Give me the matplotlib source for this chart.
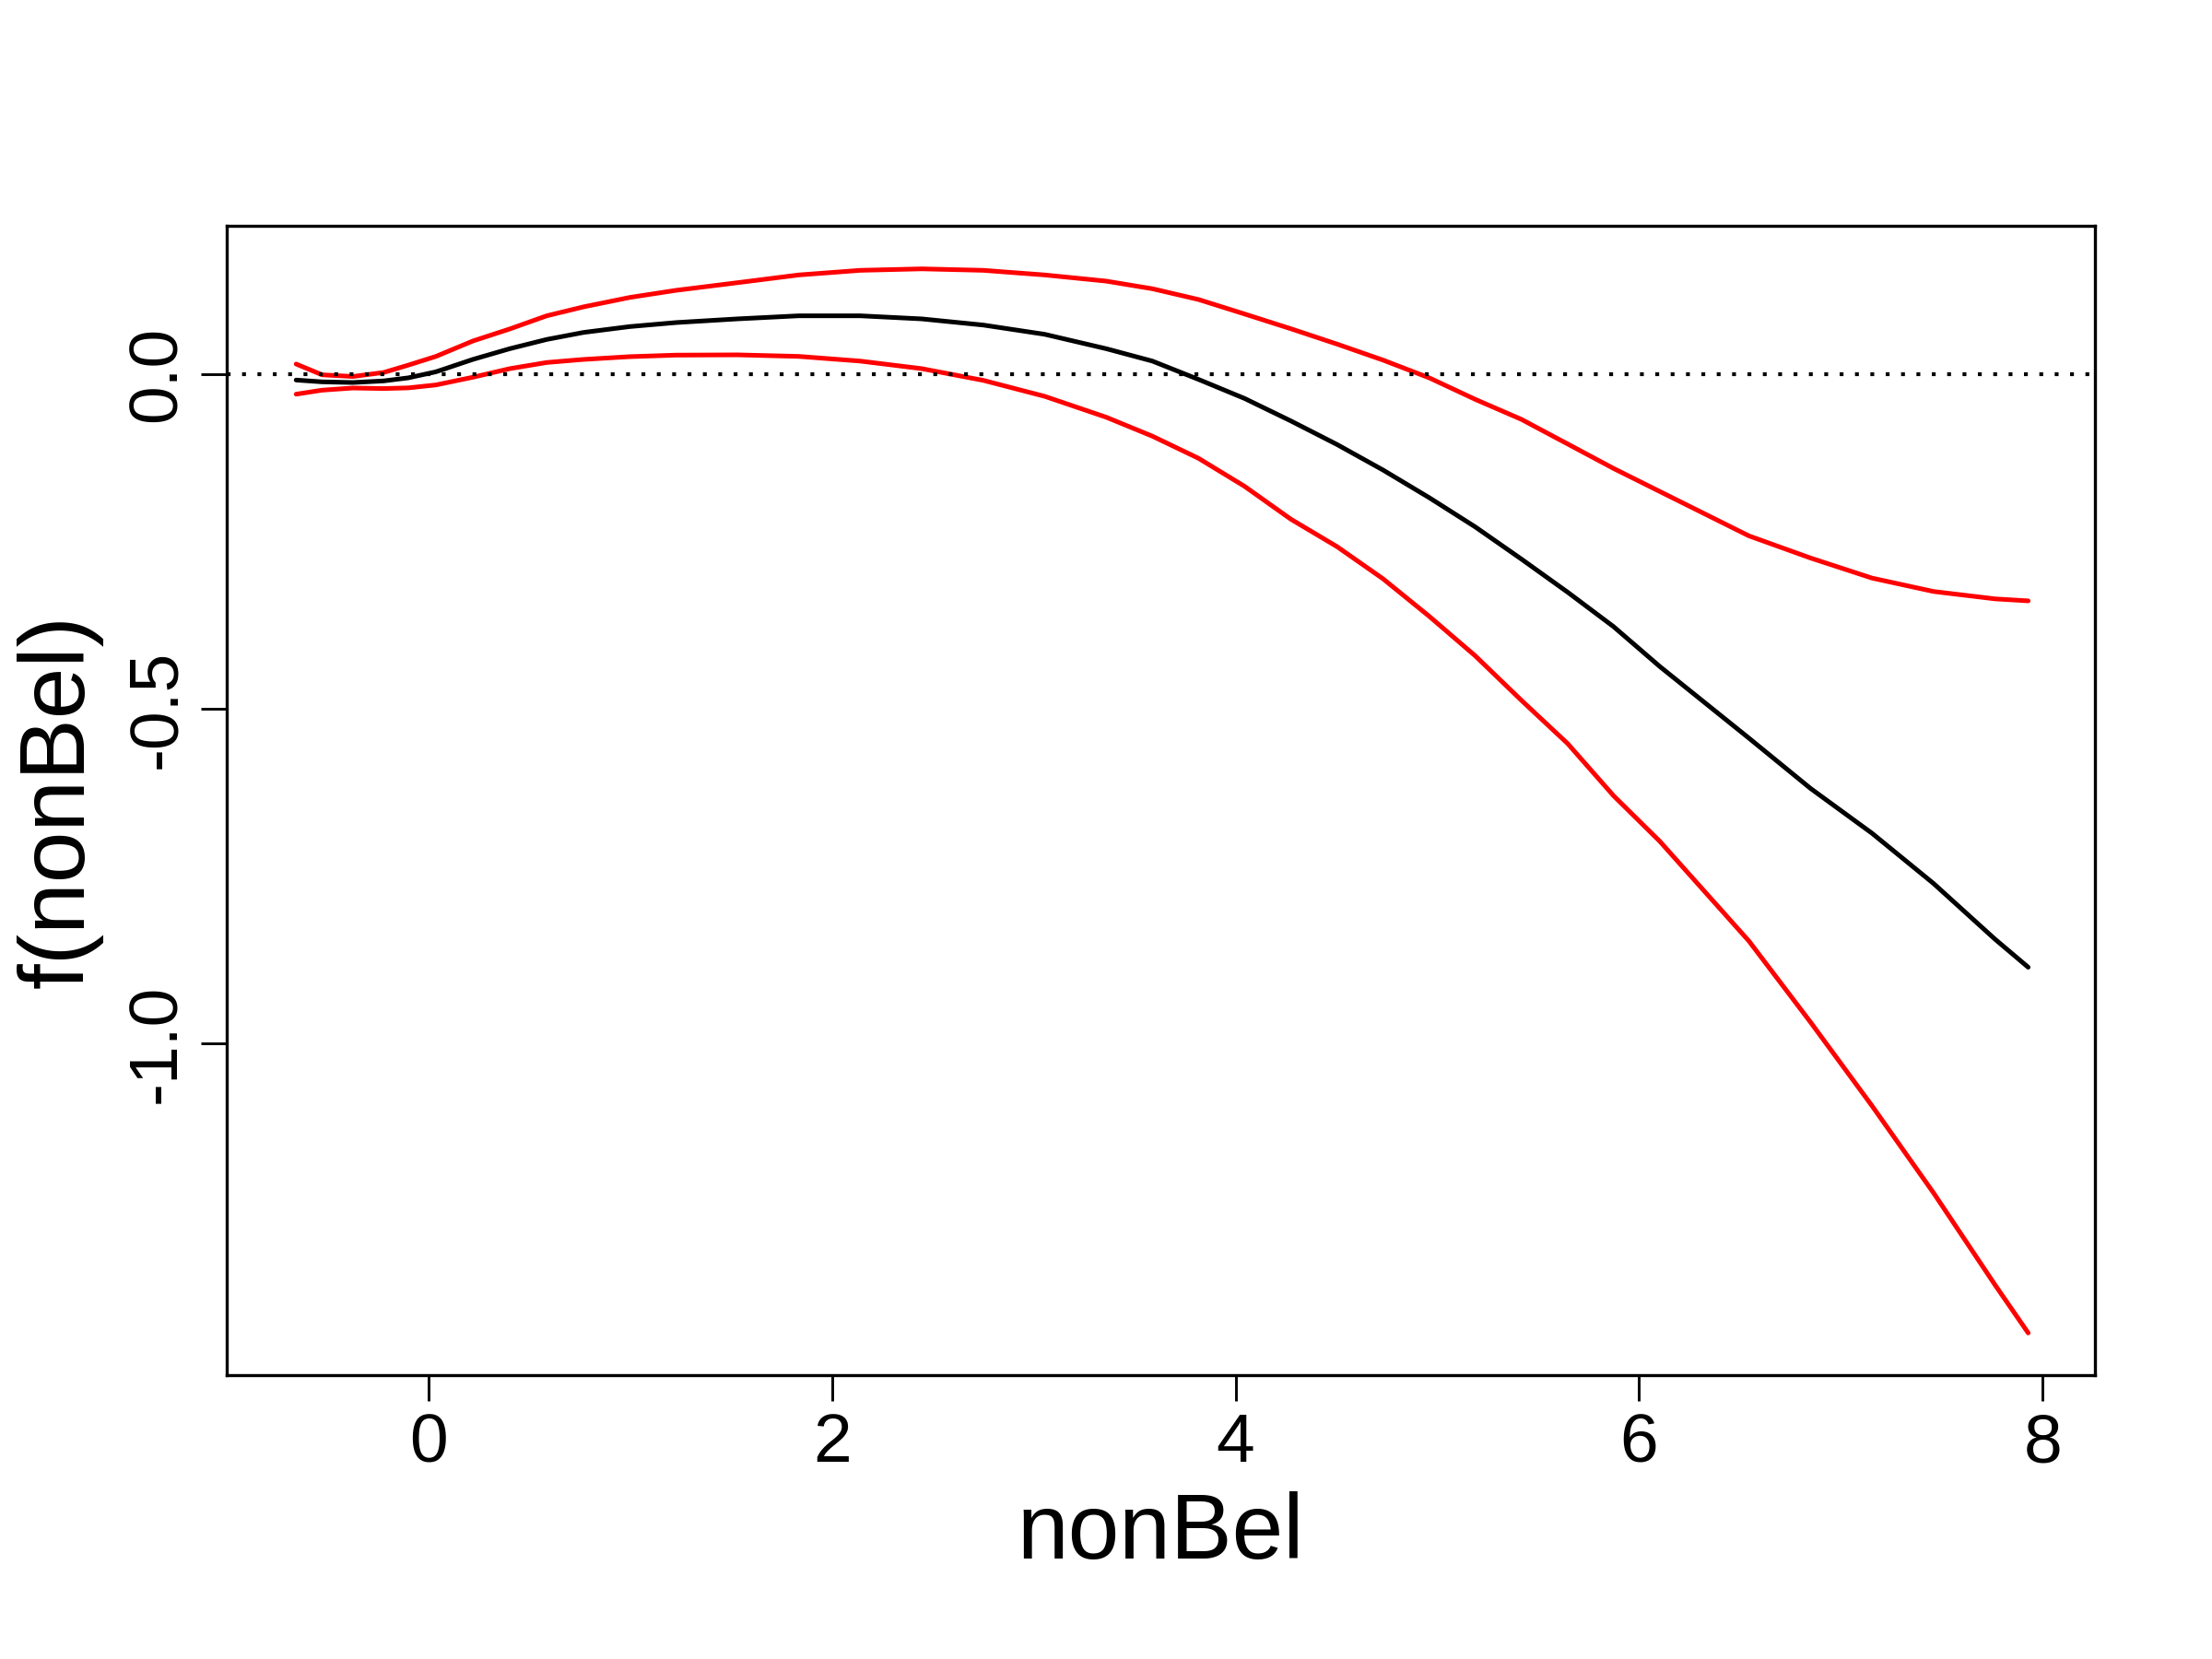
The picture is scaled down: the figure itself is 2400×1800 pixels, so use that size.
import matplotlib.pyplot as plt

plt.rcParams['font.family'] = ['Liberation Sans', 'DejaVu Sans']

# values
nonBel = [-0.656, -0.527, -0.375, -0.222, -0.10, 0.037, 0.22, 0.403, 0.586, 0.769,
          0.997, 1.226, 1.53, 1.835, 2.14, 2.445, 2.75, 3.054, 3.359, 3.588,
          3.817, 4.045, 4.274, 4.503, 4.731, 4.960, 5.188, 5.417, 5.646, 5.874,
          6.103, 6.545, 6.85, 7.155, 7.46, 7.764, 7.929]
fit = [-0.0093, -0.012, -0.013, -0.0106, -0.006, 0.003, 0.0215, 0.0375, 0.0513, 0.0618,
       0.0705, 0.0765, 0.082, 0.0866, 0.0866, 0.082, 0.0728, 0.059, 0.0375, 0.019,
       -0.0084, -0.0368, -0.0703, -0.1055, -0.1436, -0.1849, -0.2285, -0.2766, -0.326, -0.3775,
       -0.437, -0.544, -0.619, -0.686, -0.761, -0.844, -0.886]
upper = [0.0146, -0.0015, -0.004, 0.002, 0.013, 0.026, 0.049, 0.067, 0.0866, 0.100,
         0.114, 0.1246, 0.136, 0.1476, 0.1545, 0.1567, 0.1545, 0.1476, 0.1384, 0.127,
         0.1109, 0.0893, 0.0673, 0.0444, 0.0205, -0.006, -0.0381, -0.068, -0.1047, -0.1413,
         -0.1757, -0.242, -0.275, -0.305, -0.325, -0.336, -0.339]
lower = [-0.0304, -0.0244, -0.0212, -0.022, -0.021, -0.0166, -0.0051, 0.0077, 0.0169, 0.0215,
         0.0256, 0.0279, 0.0283, 0.026, 0.019, 0.0077, -0.0098, -0.0336, -0.0648, -0.0931,
         -0.1262, -0.168, -0.217, -0.258, -0.306, -0.362, -0.421, -0.4875, -0.552, -0.630,
         -0.698, -0.847, -0.968, -1.093, -1.223, -1.36, -1.432]

xticks = [0, 2, 4, 6, 8]
yticks = [0.0, -0.5, -1.0]
ytick_labels = ["0.0", "-0.5", "-1.0"]

fig = plt.figure(figsize=(8, 6), dpi=300)
ax = fig.add_axes([0.1025, 0.1711, 0.8446, 0.6928])

ax.plot(nonBel, fit, color="black", lw=1.2, solid_capstyle="round", solid_joinstyle="round")
ax.plot(nonBel, upper, color="red", lw=1.2, solid_capstyle="round", solid_joinstyle="round")
ax.plot(nonBel, lower, color="red", lw=1.2, solid_capstyle="round", solid_joinstyle="round")
ax.axhline(0, color="black", lw=1.0, linestyle=(0, (1, 3)))

ax.set_xlim(-1.0, 8.26)
ax.set_ylim(-1.495, 0.221)

ax.set_xticks(xticks)
ax.set_yticks(yticks)
ax.set_yticklabels(ytick_labels, rotation=90, va="center")

ax.tick_params(axis="both", length=6.7, width=0.7, labelsize=18, pad=3)
for s in ax.spines.values():
    s.set_linewidth(0.8)

ax.set_xlabel("nonBel", fontsize=24, labelpad=4)
ax.set_ylabel("f(nonBel)", fontsize=24, labelpad=6)

fig.savefig("out.png", dpi=300)
